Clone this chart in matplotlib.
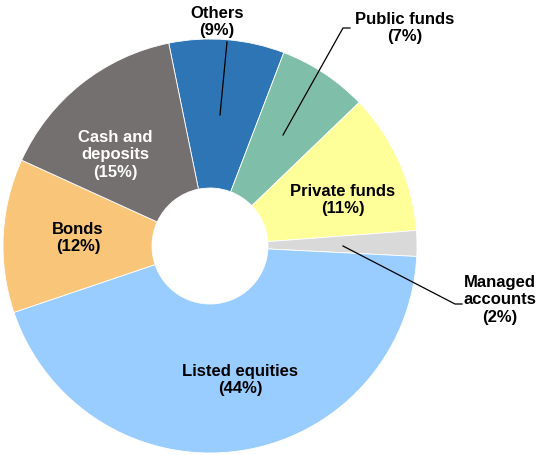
import matplotlib.pyplot as plt

plt.rcParams['font.family'] = ['Liberation Sans', 'DejaVu Sans']

# asset allocation shares (%), clockwise from the top
categories = ['Others', 'Public funds', 'Private funds', 'Managed\naccounts',
              'Listed equities', 'Bonds', 'Cash and\ndeposits']
shares = [9, 7, 11, 2, 44, 12, 15]
colors = ['#2E75B6', '#7FBFAA', '#FFFF99', '#D9D9D9',
          '#99CCFF', '#F8C579', '#757070']

W, H = 541, 455
CX, CY, R = 210, 246, 207


# pixel position -> data coordinates (1 unit = outer radius)
def px(x, y):
    return (x - CX) / R, (CY - y) / R


fig = plt.figure(figsize=(W / 100, H / 100), dpi=100)
ax = fig.add_axes([0, 0, 1, 1])

wedges, _ = ax.pie(shares, colors=colors, startangle=101.5,
                   counterclock=False, radius=1.0,
                   wedgeprops=dict(width=1 - 58 / R, edgecolor='white',
                                   linewidth=0.6))

ax.set_xlim(-CX / R, (W - CX) / R)
ax.set_ylim(-(H - CY) / R, CY / R)
ax.set_aspect('auto')
ax.axis('off')

# label positions in pixels and text colour
labelPos = [(217, 22), (405, 28), (343, 200), (500, 300),
            (240, 380), (78, 238), (115, 155)]
textColors = ['black', 'black', 'black', 'black', 'black', 'black', 'white']

for name, share, pos, tc in zip(categories, shares, labelPos, textColors):
    x, y = px(*pos)
    ax.text(x, y, '%s\n(%d%%)' % (name, share), ha='center', va='center',
            fontsize=12, fontweight='bold', color=tc, linespacing=1.2)

# leader lines
leaders = [
    [(227, 42), (220, 115)],
    [(283, 135), (343, 28), (350, 28)],
    [(343, 246), (455, 304), (462, 304)],
]
for pts in leaders:
    xs, ys = zip(*[px(*p) for p in pts])
    ax.plot(xs, ys, color='black', linewidth=0.9)

plt.savefig('out.png', dpi=100)
plt.close()
